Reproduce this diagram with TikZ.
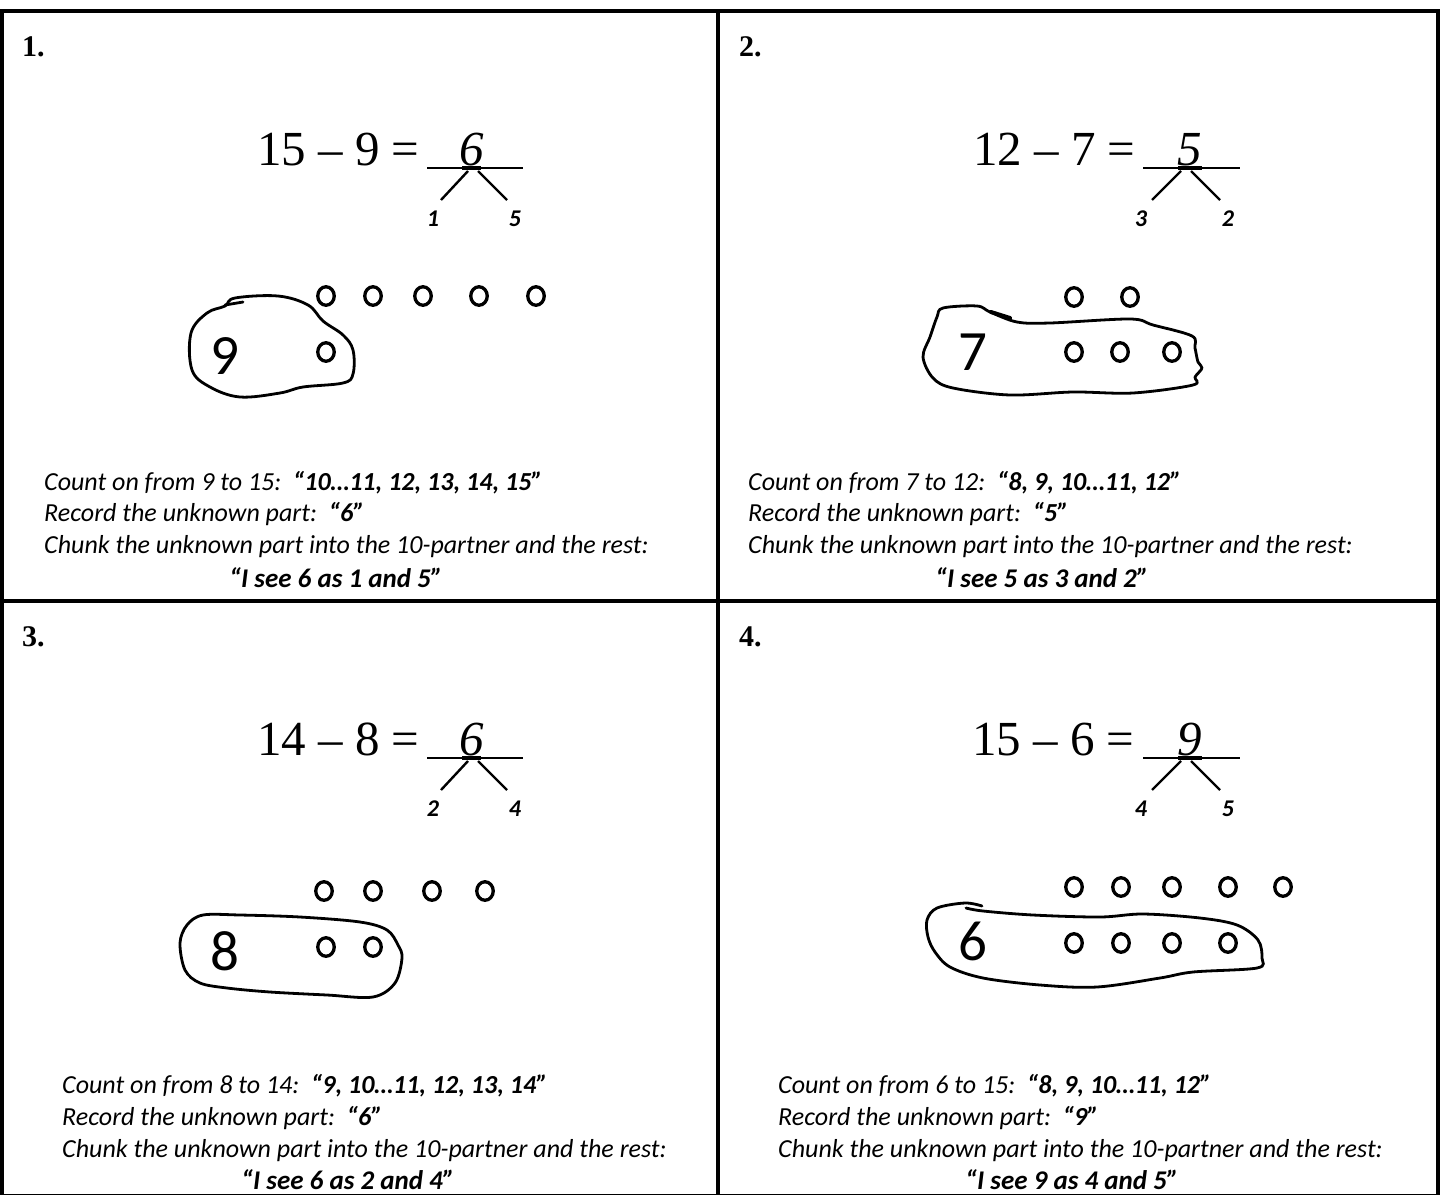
\documentclass[tikz,border=0pt]{standalone}
\usepackage{fontspec}
\setmainfont{Liberation Serif}
\newfontfamily\calfont{Carlito}
\usetikzlibrary{shapes.geometric}

\tikzset{
  frame/.style={line width=4pt},
  panelno/.style={font=\bfseries\fontsize{30}{30}\selectfont, anchor=base west, inner sep=0},
  eqn/.style={font=\fontsize{49}{49}\selectfont, anchor=base west, inner sep=0},
  answer/.style={font=\itshape\fontsize{49}{49}\selectfont, anchor=base, inner sep=0},
  blank/.style={line width=1.6pt},
  blankmid/.style={line width=3.2pt},
  branch/.style={line width=2.4pt},
  part/.style={font=\calfont\bfseries\itshape\fontsize{24}{24}\selectfont, anchor=base, inner sep=0},
  counter/.style={draw, ellipse, line width=3.3pt, minimum width=16.5pt, minimum height=18.5pt, inner sep=0},
  bignum/.style={font=\calfont\fontsize{57}{57}\selectfont, anchor=base, inner sep=0},
  blob/.style={line width=2.8pt, line join=round, line cap=round},
  step line/.style={font=\calfont\itshape\fontsize{26}{26}\selectfont, anchor=base west, inner sep=0},
  say line/.style={font=\calfont\itshape\bfseries\fontsize{27}{27}\selectfont, anchor=base, inner sep=0},
}
\newcommand{\said}[1]{\textbf{#1}}

\begin{document}
\begin{tikzpicture}[x=1pt,y=-1pt]
\useasboundingbox (0,0) rectangle (1440,1194);

% ---- frame and dividers ----
\coordinate (tl) at (2,11);
\coordinate (br) at (1437.5,1196);
\coordinate (vt) at (717.5,11);
\coordinate (vb) at (717.5,1196);
\coordinate (hl) at (2,601);
\coordinate (hr) at (1437.5,601);
\draw[frame] (tl) rectangle (br);
\draw[frame] (vt) -- (vb);
\draw[frame] (hl) -- (hr);

% ================= panel 1 =================
\node[panelno] (n1) at (22,56) {1.};
\node[eqn] (e1) at (257,165) {15 – 9 =};
\node[answer] (a1) at (472,165) {6};
\coordinate (u1a) at (427,168); \coordinate (u1b) at (523,168);
\coordinate (u1c) at (462,168); \coordinate (u1d) at (481,168);
\draw[blank] (u1a) -- (u1b);
\draw[blankmid] (u1c) -- (u1d);
\coordinate (b1l) at (468,171); \coordinate (b1r) at (478,171);
\node[part] (p1l) at (433,226) {1};
\node[part] (p1r) at (515,226) {5};
\coordinate (b1le) at (441,200); \coordinate (b1re) at (507,200);
\draw[branch] (b1l) -- (b1le);
\draw[branch] (b1r) -- (b1re);
\foreach \x [count=\i] in {326,373,423,479,536}
  \node[counter] (c1t\i) at (\x,296) {};
\node[counter] (c1b1) at (326,352) {};
\node[bignum] (g1) at (225,374) {9};
\draw[blob] plot[smooth cycle, tension=0.6] coordinates {
  (225,306) (207,313) (191,333) (192,370) (210,387) (240,397) (280,393)
  (303,387) (343,383) (353,374) (353,350) (343,335) (323,321) (308,305)
  (278,296) (235,298)};
\draw[blob] (225,305) -- (243,302);
\node[step line] (s1a) at (44,490) {Count on from 9 to 15:\ \ \said{“10…11, 12, 13, 14, 15”}};
\node[step line] (s1b) at (44,521) {Record the unknown part:\ \ \said{“6”}};
\node[step line] (s1c) at (44,553) {Chunk the unknown part into the 10-partner and the rest:};
\node[say line] (s1d) at (336,587) {“I see 6 as 1 and 5”};

% ================= panel 2 =================
\node[panelno] (n2) at (739,56) {2.};
\node[eqn] (e2) at (973,165) {12 – 7 =};
\node[answer] (a2) at (1190,165) {5};
\coordinate (u2a) at (1143,168); \coordinate (u2b) at (1240,168);
\coordinate (u2c) at (1178,168); \coordinate (u2d) at (1202,168);
\draw[blank] (u2a) -- (u2b);
\draw[blankmid] (u2c) -- (u2d);
\coordinate (b2l) at (1181,171); \coordinate (b2r) at (1191,171);
\coordinate (b2le) at (1152,200); \coordinate (b2re) at (1220,200);
\node[part] (p2l) at (1141,226) {3};
\node[part] (p2r) at (1228,226) {2};
\draw[branch] (b2l) -- (b2le);
\draw[branch] (b2r) -- (b2re);
\foreach \x [count=\i] in {1074,1130}
  \node[counter] (c2t\i) at (\x,297) {};
\foreach \x [count=\i] in {1074,1120,1172}
  \node[counter] (c2b\i) at (\x,352) {};
\node[bignum] (g2) at (973,370) {7};
\draw[blob] plot[smooth cycle, tension=0.55] coordinates {
  (943,308) (977,306) (990,312) (1017,322) (1050,323) (1130,319) (1153,325)
  (1192,336) (1195,348) (1198,362) (1202,368) (1195,377) (1193,385)
  (1133,393) (1073,392) (1010,395) (953,388) (933,378) (923,357) (930,337)
  (937,317)};
\draw[blob, line width=4pt] (991,312) -- (1010,318);
\node[step line] (s2a) at (748,490) {Count on from 7 to 12:\ \ \said{“8, 9, 10…11, 12”}};
\node[step line] (s2b) at (748,521) {Record the unknown part:\ \ \said{“5”}};
\node[step line] (s2c) at (748,553) {Chunk the unknown part into the 10-partner and the rest:};
\node[say line] (s2d) at (1042,587) {“I see 5 as 3 and 2”};

% ================= panel 3 =================
\node[panelno] (n3) at (22,646) {3.};
\node[eqn] (e3) at (257,755) {14 – 8 =};
\node[answer] (a3) at (472,755) {6};
\coordinate (u3a) at (427,758); \coordinate (u3b) at (523,758);
\coordinate (u3c) at (462,758); \coordinate (u3d) at (481,758);
\draw[blank] (u3a) -- (u3b);
\draw[blankmid] (u3c) -- (u3d);
\coordinate (b3l) at (468,761); \coordinate (b3r) at (478,761);
\coordinate (b3le) at (441,790); \coordinate (b3re) at (507,790);
\node[part] (p3l) at (433,816) {2};
\node[part] (p3r) at (515,816) {4};
\draw[branch] (b3l) -- (b3le);
\draw[branch] (b3r) -- (b3re);
\foreach \x [count=\i] in {324,373,432,485}
  \node[counter] (c3t\i) at (\x,891) {};
\foreach \x [count=\i] in {326,373}
  \node[counter] (c3b\i) at (\x,947) {};
\node[bignum] (g3) at (225,970) {8};
\draw[blob] plot[smooth cycle, tension=0.55] coordinates {
  (240,915) (300,917) (360,922) (387,930) (398,945) (402,958) (395,983)
  (373,997) (327,995) (270,992) (227,988) (200,983) (185,970) (180,943)
  (187,925) (203,915)};
\node[step line] (s3a) at (62,1093) {Count on from 8 to 14:\ \ \said{“9, 10…11, 12, 13, 14”}};
\node[step line] (s3b) at (62,1125) {Record the unknown part:\ \ \said{“6”}};
\node[step line] (s3c) at (62,1157) {Chunk the unknown part into the 10-partner and the rest:};
\node[say line] (s3d) at (348,1189) {“I see 6 as 2 and 4”};

% ================= panel 4 =================
\node[panelno] (n4) at (739,646) {4.};
\node[eqn] (e4) at (972,755) {15 – 6 =};
\node[answer] (a4) at (1190,755) {9};
\coordinate (u4a) at (1143,758); \coordinate (u4b) at (1240,758);
\coordinate (u4c) at (1178,758); \coordinate (u4d) at (1202,758);
\draw[blank] (u4a) -- (u4b);
\draw[blankmid] (u4c) -- (u4d);
\coordinate (b4l) at (1181,761); \coordinate (b4r) at (1191,761);
\coordinate (b4le) at (1152,790); \coordinate (b4re) at (1220,790);
\node[part] (p4l) at (1141,816) {4};
\node[part] (p4r) at (1228,816) {5};
\draw[branch] (b4l) -- (b4le);
\draw[branch] (b4r) -- (b4re);
\foreach \x [count=\i] in {1074,1121,1172,1228,1283}
  \node[counter] (c4t\i) at (\x,887) {};
\foreach \x [count=\i] in {1074,1121,1172,1228}
  \node[counter] (c4b\i) at (\x,943) {};
\node[bignum] (g4) at (973,960) {6};
\draw[blob] plot[smooth, tension=0.55] coordinates {
  (982,906) (965,903) (937,908) (927,920) (928,937) (935,952) (950,967)
  (983,978) (1040,985) (1097,987) (1160,978) (1193,972) (1257,968)
  (1262,958) (1258,940) (1237,925) (1200,918) (1143,914) (1100,917)
  (1033,915) (983,911) (966,908)};
\node[step line] (s4a) at (778,1093) {Count on from 6 to 15:\ \ \said{“8, 9, 10…11, 12”}};
\node[step line] (s4b) at (778,1125) {Record the unknown part:\ \ \said{“9”}};
\node[step line] (s4c) at (778,1157) {Chunk the unknown part into the 10-partner and the rest:};
\node[say line] (s4d) at (1072,1189) {“I see 9 as 4 and 5”};
\end{tikzpicture}
\end{document}
